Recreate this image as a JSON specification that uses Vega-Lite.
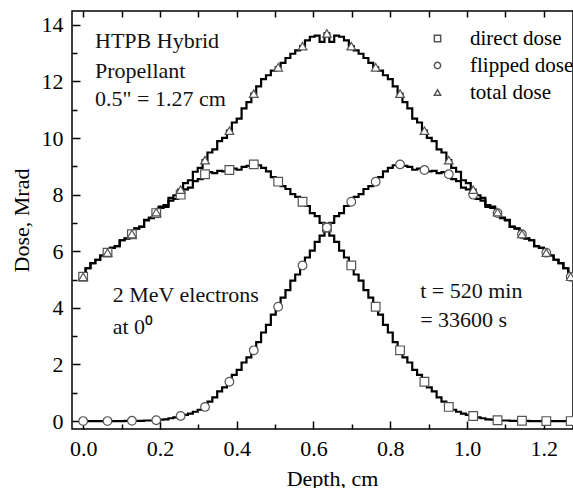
{
  "$schema": "https://vega.github.io/schema/vega-lite/v6.json",
  "width": 501,
  "height": 418,
  "autosize": {"type": "none"},
  "padding": {"left": 72, "top": 11, "right": 0, "bottom": 59},
  "background": "white",
  "config": {
    "font": "Liberation Serif",
    "view": {"stroke": "black", "strokeWidth": 1.5},
    "text": {"font": "Liberation Serif"},
    "axis": {"labelFont": "Liberation Serif", "titleFont": "Liberation Serif"},
    "legend": {"labelFont": "Liberation Serif", "titleFont": "Liberation Serif"}
  },
  "datasets": {
    "curves": [
      {"x": 0, "direct dose": 5.10, "flipped dose": 0, "total dose": 5.10},
      {"x": 0.0127, "direct dose": 5.40, "flipped dose": 0, "total dose": 5.40},
      {"x": 0.0254, "direct dose": 5.58, "flipped dose": 0, "total dose": 5.58},
      {"x": 0.0381, "direct dose": 5.70, "flipped dose": 0, "total dose": 5.70},
      {"x": 0.0508, "direct dose": 5.85, "flipped dose": 0, "total dose": 5.85},
      {"x": 0.0635, "direct dose": 5.95, "flipped dose": 0, "total dose": 5.95},
      {"x": 0.0762, "direct dose": 6.12, "flipped dose": 0, "total dose": 6.12},
      {"x": 0.0889, "direct dose": 6.18, "flipped dose": 0, "total dose": 6.18},
      {"x": 0.1016, "direct dose": 6.39, "flipped dose": 0, "total dose": 6.39},
      {"x": 0.1143, "direct dose": 6.45, "flipped dose": 0.01, "total dose": 6.46},
      {"x": 0.127, "direct dose": 6.60, "flipped dose": 0.01, "total dose": 6.61},
      {"x": 0.1397, "direct dose": 6.80, "flipped dose": 0.01, "total dose": 6.81},
      {"x": 0.1524, "direct dose": 6.86, "flipped dose": 0.01, "total dose": 6.87},
      {"x": 0.1651, "direct dose": 7.09, "flipped dose": 0.02, "total dose": 7.11},
      {"x": 0.1778, "direct dose": 7.17, "flipped dose": 0.02, "total dose": 7.19},
      {"x": 0.1905, "direct dose": 7.35, "flipped dose": 0.03, "total dose": 7.38},
      {"x": 0.2032, "direct dose": 7.53, "flipped dose": 0.05, "total dose": 7.58},
      {"x": 0.2159, "direct dose": 7.57, "flipped dose": 0.06, "total dose": 7.63},
      {"x": 0.2286, "direct dose": 7.79, "flipped dose": 0.10, "total dose": 7.89},
      {"x": 0.2413, "direct dose": 7.85, "flipped dose": 0.13, "total dose": 7.98},
      {"x": 0.254, "direct dose": 8.00, "flipped dose": 0.18, "total dose": 8.18},
      {"x": 0.2667, "direct dose": 8.19, "flipped dose": 0.22, "total dose": 8.41},
      {"x": 0.2794, "direct dose": 8.25, "flipped dose": 0.26, "total dose": 8.51},
      {"x": 0.2921, "direct dose": 8.48, "flipped dose": 0.33, "total dose": 8.81},
      {"x": 0.3048, "direct dose": 8.55, "flipped dose": 0.40, "total dose": 8.95},
      {"x": 0.3175, "direct dose": 8.72, "flipped dose": 0.50, "total dose": 9.22},
      {"x": 0.3302, "direct dose": 8.80, "flipped dose": 0.69, "total dose": 9.49},
      {"x": 0.3429, "direct dose": 8.76, "flipped dose": 0.84, "total dose": 9.60},
      {"x": 0.3556, "direct dose": 8.84, "flipped dose": 1.05, "total dose": 9.89},
      {"x": 0.3683, "direct dose": 8.82, "flipped dose": 1.19, "total dose": 10.01},
      {"x": 0.381, "direct dose": 8.87, "flipped dose": 1.39, "total dose": 10.26},
      {"x": 0.3937, "direct dose": 8.92, "flipped dose": 1.63, "total dose": 10.55},
      {"x": 0.4064, "direct dose": 8.88, "flipped dose": 1.81, "total dose": 10.69},
      {"x": 0.4191, "direct dose": 8.98, "flipped dose": 2.07, "total dose": 11.05},
      {"x": 0.4318, "direct dose": 9.02, "flipped dose": 2.25, "total dose": 11.27},
      {"x": 0.4445, "direct dose": 9.07, "flipped dose": 2.50, "total dose": 11.57},
      {"x": 0.4572, "direct dose": 9.04, "flipped dose": 2.79, "total dose": 11.83},
      {"x": 0.4699, "direct dose": 8.95, "flipped dose": 3.13, "total dose": 12.08},
      {"x": 0.4826, "direct dose": 8.82, "flipped dose": 3.40, "total dose": 12.22},
      {"x": 0.4953, "direct dose": 8.62, "flipped dose": 3.76, "total dose": 12.38},
      {"x": 0.508, "direct dose": 8.46, "flipped dose": 4.04, "total dose": 12.50},
      {"x": 0.5207, "direct dose": 8.30, "flipped dose": 4.36, "total dose": 12.66},
      {"x": 0.5334, "direct dose": 8.20, "flipped dose": 4.63, "total dose": 12.83},
      {"x": 0.5461, "direct dose": 8.02, "flipped dose": 4.96, "total dose": 12.98},
      {"x": 0.5588, "direct dose": 7.92, "flipped dose": 5.18, "total dose": 13.10},
      {"x": 0.5715, "direct dose": 7.75, "flipped dose": 5.50, "total dose": 13.25},
      {"x": 0.5842, "direct dose": 7.60, "flipped dose": 5.78, "total dose": 13.45},
      {"x": 0.5969, "direct dose": 7.35, "flipped dose": 6.02, "total dose": 13.58},
      {"x": 0.6096, "direct dose": 7.24, "flipped dose": 6.33, "total dose": 13.62},
      {"x": 0.6223, "direct dose": 7.00, "flipped dose": 6.55, "total dose": 13.40},
      {"x": 0.635, "direct dose": 6.84, "flipped dose": 6.84, "total dose": 13.70},
      {"x": 0.6477, "direct dose": 6.55, "flipped dose": 7.00, "total dose": 13.40},
      {"x": 0.6604, "direct dose": 6.33, "flipped dose": 7.24, "total dose": 13.62},
      {"x": 0.6731, "direct dose": 6.02, "flipped dose": 7.35, "total dose": 13.58},
      {"x": 0.6858, "direct dose": 5.78, "flipped dose": 7.60, "total dose": 13.45},
      {"x": 0.6985, "direct dose": 5.50, "flipped dose": 7.75, "total dose": 13.25},
      {"x": 0.7112, "direct dose": 5.18, "flipped dose": 7.92, "total dose": 13.10},
      {"x": 0.7239, "direct dose": 4.96, "flipped dose": 8.02, "total dose": 12.98},
      {"x": 0.7366, "direct dose": 4.63, "flipped dose": 8.20, "total dose": 12.83},
      {"x": 0.7493, "direct dose": 4.36, "flipped dose": 8.30, "total dose": 12.66},
      {"x": 0.762, "direct dose": 4.04, "flipped dose": 8.46, "total dose": 12.50},
      {"x": 0.7747, "direct dose": 3.76, "flipped dose": 8.62, "total dose": 12.38},
      {"x": 0.7874, "direct dose": 3.40, "flipped dose": 8.82, "total dose": 12.22},
      {"x": 0.8001, "direct dose": 3.13, "flipped dose": 8.95, "total dose": 12.08},
      {"x": 0.8128, "direct dose": 2.79, "flipped dose": 9.04, "total dose": 11.83},
      {"x": 0.8255, "direct dose": 2.50, "flipped dose": 9.07, "total dose": 11.57},
      {"x": 0.8382, "direct dose": 2.25, "flipped dose": 9.02, "total dose": 11.27},
      {"x": 0.8509, "direct dose": 2.07, "flipped dose": 8.98, "total dose": 11.05},
      {"x": 0.8636, "direct dose": 1.81, "flipped dose": 8.88, "total dose": 10.69},
      {"x": 0.8763, "direct dose": 1.63, "flipped dose": 8.92, "total dose": 10.55},
      {"x": 0.889, "direct dose": 1.39, "flipped dose": 8.87, "total dose": 10.26},
      {"x": 0.9017, "direct dose": 1.19, "flipped dose": 8.82, "total dose": 10.01},
      {"x": 0.9144, "direct dose": 1.05, "flipped dose": 8.84, "total dose": 9.89},
      {"x": 0.9271, "direct dose": 0.84, "flipped dose": 8.76, "total dose": 9.60},
      {"x": 0.9398, "direct dose": 0.69, "flipped dose": 8.80, "total dose": 9.49},
      {"x": 0.9525, "direct dose": 0.50, "flipped dose": 8.72, "total dose": 9.22},
      {"x": 0.9652, "direct dose": 0.40, "flipped dose": 8.55, "total dose": 8.95},
      {"x": 0.9779, "direct dose": 0.33, "flipped dose": 8.48, "total dose": 8.81},
      {"x": 0.9906, "direct dose": 0.26, "flipped dose": 8.25, "total dose": 8.51},
      {"x": 1.0033, "direct dose": 0.22, "flipped dose": 8.19, "total dose": 8.41},
      {"x": 1.016, "direct dose": 0.18, "flipped dose": 8.00, "total dose": 8.18},
      {"x": 1.0287, "direct dose": 0.13, "flipped dose": 7.85, "total dose": 7.98},
      {"x": 1.0414, "direct dose": 0.10, "flipped dose": 7.79, "total dose": 7.89},
      {"x": 1.0541, "direct dose": 0.06, "flipped dose": 7.57, "total dose": 7.63},
      {"x": 1.0668, "direct dose": 0.05, "flipped dose": 7.53, "total dose": 7.58},
      {"x": 1.0795, "direct dose": 0.03, "flipped dose": 7.35, "total dose": 7.38},
      {"x": 1.0922, "direct dose": 0.02, "flipped dose": 7.17, "total dose": 7.19},
      {"x": 1.1049, "direct dose": 0.02, "flipped dose": 7.09, "total dose": 7.11},
      {"x": 1.1176, "direct dose": 0.01, "flipped dose": 6.86, "total dose": 6.87},
      {"x": 1.1303, "direct dose": 0.01, "flipped dose": 6.80, "total dose": 6.81},
      {"x": 1.143, "direct dose": 0.01, "flipped dose": 6.60, "total dose": 6.61},
      {"x": 1.1557, "direct dose": 0.01, "flipped dose": 6.45, "total dose": 6.46},
      {"x": 1.1684, "direct dose": 0, "flipped dose": 6.39, "total dose": 6.39},
      {"x": 1.1811, "direct dose": 0, "flipped dose": 6.18, "total dose": 6.18},
      {"x": 1.1938, "direct dose": 0, "flipped dose": 6.12, "total dose": 6.12},
      {"x": 1.2065, "direct dose": 0, "flipped dose": 5.95, "total dose": 5.95},
      {"x": 1.2192, "direct dose": 0, "flipped dose": 5.85, "total dose": 5.85},
      {"x": 1.2319, "direct dose": 0, "flipped dose": 5.70, "total dose": 5.70},
      {"x": 1.2446, "direct dose": 0, "flipped dose": 5.58, "total dose": 5.58},
      {"x": 1.2573, "direct dose": 0, "flipped dose": 5.40, "total dose": 5.40},
      {"x": 1.27, "direct dose": 0, "flipped dose": 5.10, "total dose": 5.10}
    ],
    "notes": [
      {"x": 0.031, "y": 13.18, "text": "HTPB Hybrid"},
      {"x": 0.031, "y": 12.13, "text": "Propellant"},
      {"x": 0.031, "y": 11.14, "text": "0.5\" = 1.27 cm"},
      {"x": 0.077, "y": 4.22, "text": "2 MeV electrons"},
      {"x": 0.077, "y": 3.07, "text": "at 0⁰"},
      {"x": 0.878, "y": 4.34, "text": "t = 520 min"},
      {"x": 0.878, "y": 3.31, "text": "= 33600 s"}
    ]
  },
  "layer": [
    {
      "data": {"name": "curves"},
      "transform": [{"fold": ["direct dose", "flipped dose", "total dose"], "as": ["series", "y"]}],
      "mark": {"type": "line", "interpolate": "step", "color": "black", "strokeWidth": 2.2},
      "encoding": {
        "x": {
          "field": "x", "type": "quantitative",
          "scale": {"domain": [-0.029, 1.276], "nice": false, "zero": false},
          "axis": {
            "orient": "bottom",
            "values": [0, 0.1, 0.2, 0.3, 0.4, 0.5, 0.6, 0.7, 0.8, 0.9, 1.0, 1.1, 1.2],
            "labelExpr": "round(datum.value*10) % 2 == 0 ? format(datum.value, '.1f') : ''",
            "tickSize": {"condition": {"test": "round(datum.value*10) % 2 == 0", "value": -8}, "value": -5},
            "tickColor": "black", "tickWidth": 1.5,
            "domain": false, "grid": false,
            "labelFont": "Liberation Serif", "labelFontSize": 22, "labelColor": "black",
            "labelPadding": 17, "labelFlush": false, "labelOverlap": false,
            "title": "Depth, cm", "titleFont": "Liberation Serif", "titleFontSize": 22,
            "titleFontWeight": "normal", "titleColor": "black", "titlePadding": 6, "titleX": 260
          }
        },
        "y": {
          "field": "y", "type": "quantitative",
          "scale": {"domain": [-0.28, 14.49], "nice": false, "zero": false},
          "axis": {
            "orient": "left",
            "values": [0, 1, 2, 3, 4, 5, 6, 7, 8, 9, 10, 11, 12, 13, 14],
            "labelExpr": "datum.value % 2 == 0 ? datum.label : ''",
            "tickSize": {"condition": {"test": "datum.value % 2 == 0", "value": -8}, "value": -5},
            "tickColor": "black", "tickWidth": 1.5,
            "domain": false, "grid": false,
            "labelFont": "Liberation Serif", "labelFontSize": 22, "labelColor": "black",
            "labelPadding": 17, "labelFlush": false, "labelOverlap": false,
            "title": "Dose, Mrad", "titleFont": "Liberation Serif", "titleFontSize": 22,
            "titleFontWeight": "normal", "titleColor": "black", "titlePadding": 8
          }
        },
        "detail": {"field": "series"}
      }
    },
    {
      "data": {"name": "curves"},
      "transform": [
        {"fold": ["direct dose", "flipped dose", "total dose"], "as": ["series", "y"]},
        {"filter": {"field": "x", "oneOf": [0, 0.0635, 0.127, 0.1905, 0.254, 0.3175, 0.381, 0.4445, 0.508, 0.5715, 0.635, 0.6985, 0.762, 0.8255, 0.889, 0.9525, 1.016, 1.0795, 1.143, 1.2065, 1.27]}}
      ],
      "mark": {"type": "point", "filled": true, "fill": "white", "stroke": "#555555", "strokeWidth": 1.2, "opacity": 1, "size": 75},
      "encoding": {
        "x": {
          "field": "x", "type": "quantitative",
          "axis": {
            "orient": "top",
            "values": [0, 0.1, 0.2, 0.3, 0.4, 0.5, 0.6, 0.7, 0.8, 0.9, 1.0, 1.1, 1.2],
            "labels": false, "tickSize": -6, "tickColor": "black", "tickWidth": 1.5,
            "domain": false, "grid": false, "title": null
          }
        },
        "y": {"field": "y", "type": "quantitative", "axis": null},
        "shape": {
          "field": "series", "type": "nominal",
          "scale": {"domain": ["direct dose", "flipped dose", "total dose"], "range": ["square", "circle", "triangle-up"]},
          "legend": {
            "orient": "none", "legendX": 355, "legendY": 17,
            "title": null, "padding": 0,
            "symbolSize": 40,
            "labelFont": "Liberation Serif", "labelFontSize": 21, "labelColor": "black",
            "labelOffset": 22, "rowPadding": 5
          }
        }
      }
    },
    {
      "data": {"name": "notes"},
      "mark": {"type": "text", "align": "left", "baseline": "alphabetic", "fontSize": 22, "font": "Liberation Serif", "color": "#111111"},
      "encoding": {
        "x": {"field": "x", "type": "quantitative", "axis": null},
        "y": {"field": "y", "type": "quantitative", "axis": null},
        "text": {"field": "text"}
      }
    }
  ],
  "resolve": {
    "axis": {"x": "independent", "y": "independent"}
  }
}
